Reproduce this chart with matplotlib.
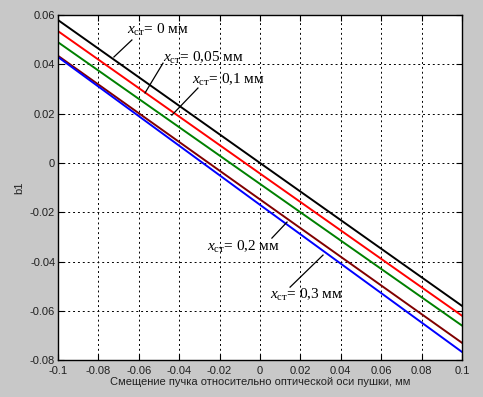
import matplotlib
matplotlib.use("Agg")
import matplotlib.pyplot as plt

plt.rcParams['font.family'] = ['Liberation Sans', 'DejaVu Sans']
plt.rcParams['mathtext.fontset'] = 'custom'
plt.rcParams['mathtext.rm'] = 'Liberation Serif'
plt.rcParams['mathtext.it'] = 'Liberation Serif:italic'

# data
x = [-0.1, 0.0, 0.1]
y_0 = [0.058, 0.0, -0.058]
y_005 = [0.0535, -0.0043, -0.062]
y_01 = [0.049, -0.0085, -0.066]
y_02 = [0.0435, -0.0148, -0.073]
y_03 = [0.043, -0.017, -0.0767]
series = [y_0, y_005, y_01, y_02, y_03]
colors = ['#000000', '#ff0000', '#008000', '#800000', '#0000ff']

xticks = [-0.1, -0.08, -0.06, -0.04, -0.02, 0, 0.02, 0.04, 0.06, 0.08, 0.1]
xtick_labels = ['-0.1', '-0.08', '-0.06', '-0.04', '-0.02', '0', '0.02', '0.04', '0.06', '0.08', '0.1']
yticks = [-0.08, -0.06, -0.04, -0.02, 0, 0.02, 0.04, 0.06]
ytick_labels = ['-0.08', '-0.06', '-0.04', '-0.02', '0', '0.02', '0.04', '0.06']

labels = [r'$\mathit{x}_{\mathrm{ст}}$= 0 мм', r'$\mathit{x}_{\mathrm{ст}}$= 0,05 мм',
          r'$\mathit{x}_{\mathrm{ст}}$= 0,1 мм', r'$\mathit{x}_{\mathrm{ст}}$= 0,2 мм',
          r'$\mathit{x}_{\mathrm{ст}}$= 0,3 мм']
label_pos = [(-0.0658, 0.0539), (-0.048, 0.0425), (-0.0337, 0.0336), (-0.0262, -0.0341), (0.005, -0.0536)]
leader_from = [(-0.0723, 0.0430), (-0.0569, 0.0284), (-0.0436, 0.0194), (0.0059, -0.0305), (0.0149, -0.0504)]
leader_to = [(-0.0634, 0.0499), (-0.048, 0.0405), (-0.0307, 0.0304), (0.0134, -0.024), (0.0312, -0.0374)]

fig = plt.figure(figsize=(4.83, 3.97), dpi=100, facecolor='#c8c8c8')
ax = fig.add_axes([0.120, 0.093, 0.8365, 0.869])
ax.set_facecolor('white')

for ys, c in zip(series, colors):
    ax.plot(x, ys, color=c, lw=1.4)

for lab, (tx, ty), (fx, fy), (gx, gy) in zip(labels, label_pos, leader_from, leader_to):
    ax.plot([fx, gx], [fy, gy], color='black', lw=0.9)
    ax.text(tx, ty, lab, fontsize=11, ha='left', va='center',
            family=['Liberation Serif', 'DejaVu Serif'])

ax.set_xlim(-0.1, 0.1)
ax.set_ylim(-0.08, 0.06)
ax.set_xticks(xticks)
ax.set_xticklabels(xtick_labels)
ax.set_yticks(yticks)
ax.set_yticklabels(ytick_labels)
ax.tick_params(direction='in', top=True, right=True, labelsize=8, length=4, pad=2, colors='black', labelcolor='#202020')
ax.tick_params(axis='x', pad=4)
ax.grid(True, color='black', linestyle=(0, (2, 3)), lw=0.7)
for s in ax.spines.values():
    s.set_linewidth(1.0)

ax.set_xlabel('Смещение пучка относительно оптической оси пушки, мм', fontsize=8, labelpad=1, color='#202020')
ax.set_ylabel('b1', fontsize=8, labelpad=4, color='#202020')

fig.savefig('out.png', dpi=100, facecolor=fig.get_facecolor())
